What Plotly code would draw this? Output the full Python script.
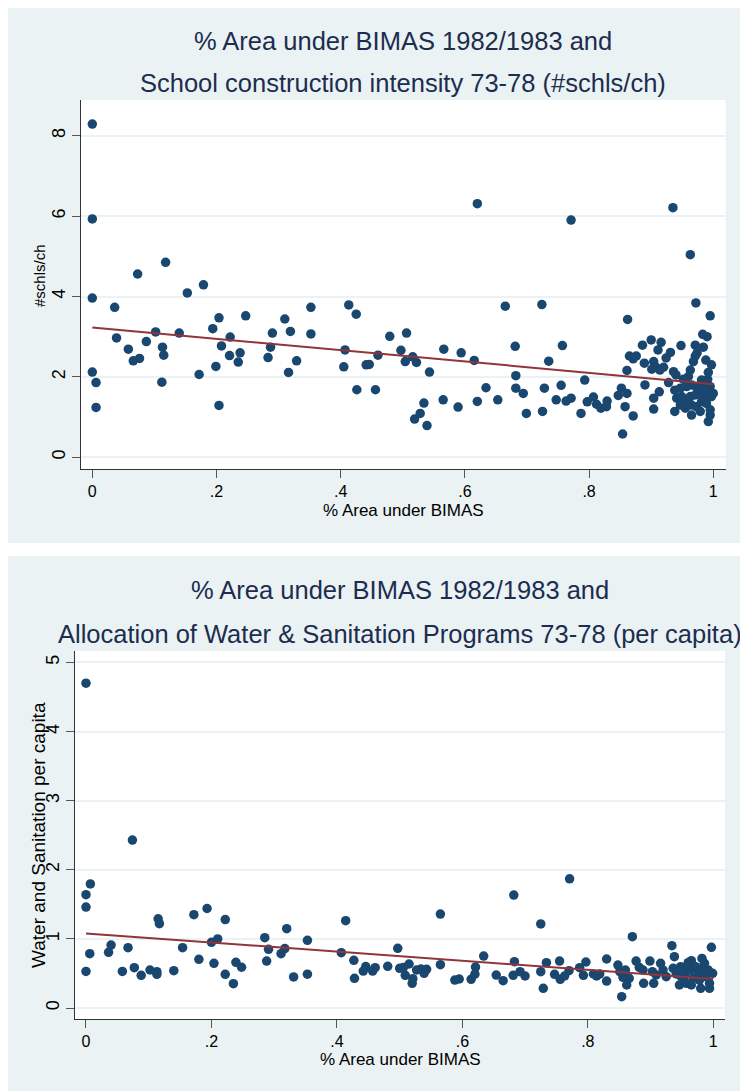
import plotly.graph_objects as go

# the page body keeps its default 8px margin, so the figure is drawn 8px in
# from the top-left corner; pixel positions below are for the whole window
PAGE_W, PAGE_H, BODY = 748, 1091, 8
FW, FH = PAGE_W - BODY, PAGE_H - BODY
PANEL_BG = "#EAF2F3"
NAVY = "#1A476F"
MAROON = "#90353B"
TITLE_COLOR = "#1C2D4F"
FONT = "Liberation Sans, Arial, sans-serif"

# --- top panel: % area under BIMAS vs school construction intensity ---
TOP_X = [
    0.000, 0.000, 0.000, 0.000, 0.006, 0.006, 0.036, 0.039, 0.058, 0.066,
    0.076, 0.073, 0.087, 0.102, 0.113, 0.115, 0.112, 0.118, 0.140, 0.153,
    0.172, 0.179, 0.194, 0.204, 0.199, 0.204, 0.208, 0.222, 0.221, 0.235,
    0.238, 0.247, 0.283, 0.287, 0.290, 0.310, 0.316, 0.319, 0.329, 0.352,
    0.352, 0.405, 0.407, 0.413, 0.425, 0.426, 0.441, 0.446, 0.456, 0.460,
    0.479, 0.497, 0.504, 0.506,
    0.516, 0.522, 0.519, 0.528, 0.534, 0.539, 0.543, 0.566, 0.565, 0.589,
    0.594, 0.615, 0.620, 0.620, 0.634, 0.653, 0.665, 0.681, 0.682, 0.682,
    0.694, 0.699, 0.724, 0.725, 0.728, 0.735, 0.747, 0.757, 0.755, 0.763,
    0.771, 0.771, 0.787, 0.793, 0.797, 0.807, 0.812, 0.819, 0.829, 0.828,
    0.847,
    0.862, 0.935, 0.963, 0.972, 0.995,
    0.983, 0.990, 0.886, 0.900, 0.916, 0.911, 0.948, 0.865, 0.876, 0.871,
    0.931, 0.924, 0.971, 0.984, 0.974, 0.971, 0.889, 0.904, 0.908, 0.901,
    0.920, 0.914, 0.968, 0.988, 0.997, 0.861, 0.936, 0.940, 0.963, 0.960,
    0.952, 0.992, 0.991, 0.981, 0.928, 0.890, 0.913, 0.904, 0.904, 0.852,
    0.861, 0.858, 0.871, 0.854,
    0.938, 0.947, 0.957, 0.965, 0.973, 0.984, 0.995, 1.000, 0.941, 0.949,
    0.955, 0.963, 0.971, 0.979, 0.989, 0.997, 0.938, 0.947, 0.955, 0.965,
    0.973, 0.981, 0.989, 0.995, 0.965, 0.979, 0.992, 0.995, 0.984,
]
TOP_Y = [
    8.29, 5.93, 3.96, 2.12, 1.86, 1.24, 3.73, 2.97, 2.69, 2.40,
    2.46, 4.56, 2.88, 3.12, 2.74, 2.54, 1.87, 4.85, 3.09, 4.09,
    2.06, 4.29, 3.20, 3.47, 2.26, 1.29, 2.77, 2.99, 2.53, 2.37,
    2.60, 3.52, 2.48, 2.74, 3.09, 3.44, 2.11, 3.13, 2.40, 3.73,
    3.07, 2.25, 2.67, 3.79, 3.56, 1.68, 2.30, 2.31, 1.68, 2.54,
    3.01, 2.66, 2.38, 3.09,
    2.50, 2.36, 0.95, 1.09, 1.35, 0.79, 2.12, 2.69, 1.43, 1.25,
    2.60, 2.41, 6.31, 1.39, 1.73, 1.43, 3.76, 2.76, 2.03, 1.72,
    1.59, 1.09, 3.80, 1.14, 1.72, 2.39, 1.43, 2.78, 1.79, 1.40,
    5.90, 1.47, 1.09, 1.92, 1.38, 1.50, 1.32, 1.22, 1.40, 1.26,
    1.54,
    3.43, 6.21, 5.04, 3.84, 3.52,
    3.06, 3.00, 2.79, 2.92, 2.86, 2.67, 2.78, 2.52, 2.52, 2.45,
    2.61, 2.47, 2.79, 2.74, 2.60, 2.52, 2.34, 2.38, 2.24, 2.19,
    2.24, 2.17, 2.38, 2.42, 2.30, 2.16, 2.13, 2.05, 2.17, 2.01,
    1.94, 2.11, 1.94, 1.92, 1.86, 1.80, 1.63, 1.47, 1.20, 1.72,
    1.59, 1.26, 1.03, 0.58,
    1.67, 1.72, 1.76, 1.80, 1.74, 1.80, 1.76, 1.59, 1.47, 1.51,
    1.38, 1.51, 1.55, 1.59, 1.63, 1.51, 1.14, 1.30, 1.22, 1.30,
    1.26, 1.38, 1.34, 1.18, 1.05, 1.14, 0.89, 1.05, 1.43,
]
TOP_FIT_X = [0.0, 1.0]
TOP_FIT_Y = [3.23, 1.82]

# --- bottom panel: % area under BIMAS vs water & sanitation per capita ---
BOT_X = [
    0.000, 0.074, 0.007, 0.000, 0.000, 0.006, 0.000, 0.036, 0.040, 0.067,
    0.058, 0.077, 0.088, 0.102, 0.113, 0.113, 0.115, 0.117, 0.140, 0.154,
    0.172, 0.180, 0.193, 0.200, 0.210, 0.204, 0.222, 0.222, 0.239, 0.248,
    0.235, 0.285, 0.291, 0.288, 0.320, 0.317, 0.311, 0.331, 0.353, 0.353,
    0.414, 0.407, 0.427, 0.428, 0.442, 0.446, 0.457, 0.461, 0.481, 0.497,
    0.500,
    0.506, 0.509, 0.515, 0.521, 0.520, 0.527, 0.534, 0.539, 0.543, 0.565,
    0.565, 0.588, 0.595, 0.614, 0.620, 0.621, 0.634, 0.654, 0.665, 0.682,
    0.683, 0.681, 0.692, 0.700, 0.725, 0.725, 0.729, 0.734, 0.747, 0.755,
    0.756, 0.763, 0.771, 0.770, 0.787, 0.793, 0.797, 0.809, 0.814, 0.819,
    0.830, 0.830, 0.848, 0.851, 0.854, 0.856, 0.860, 0.862, 0.866, 0.871,
    0.877, 0.882, 0.888, 0.889, 0.899, 0.903, 0.905, 0.909, 0.916, 0.920,
    0.925, 0.934, 0.938, 0.936, 0.941, 0.946, 0.948, 0.955, 0.960, 0.963,
    0.965, 0.968, 0.972, 0.976, 0.980, 0.982, 0.984, 0.988, 0.992, 0.994,
    0.997, 0.999, 0.994, 0.957, 0.949, 0.965, 0.978, 0.986, 0.952,
]
BOT_Y = [
    4.70, 2.43, 1.795, 1.64, 1.46, 0.786, 0.53, 0.806, 0.91, 0.873,
    0.53, 0.584, 0.473, 0.55, 0.526, 0.487, 1.29, 1.22, 0.54, 0.873,
    1.35, 0.704, 1.44, 0.95, 1.00, 0.646, 1.28, 0.487, 0.661, 0.59,
    0.352, 1.018, 0.849, 0.68, 1.148, 0.86, 0.786, 0.449, 0.979, 0.49,
    1.264, 0.80, 0.69, 0.43, 0.535, 0.60, 0.535, 0.584, 0.603, 0.864,
    0.574,
    0.588, 0.473, 0.637, 0.424, 0.357, 0.55, 0.564, 0.502, 0.56, 1.36,
    0.627, 0.405, 0.42, 0.415, 0.49, 0.593, 0.752, 0.477, 0.395, 1.635,
    0.67, 0.473, 0.526, 0.463, 1.216, 0.526, 0.285, 0.656, 0.487, 0.68,
    0.415, 0.463, 1.87, 0.54, 0.584, 0.473, 0.666, 0.492, 0.463, 0.492,
    0.709, 0.39, 0.622, 0.526, 0.164, 0.444, 0.55, 0.333, 0.43, 1.032,
    0.68, 0.588, 0.55, 0.357, 0.68, 0.526, 0.357, 0.478, 0.646, 0.55,
    0.453, 0.902, 0.743, 0.574, 0.492, 0.333, 0.598, 0.478, 0.656, 0.55,
    0.685, 0.43, 0.598, 0.502, 0.285, 0.718, 0.574, 0.453, 0.55, 0.285,
    0.878, 0.502, 0.357, 0.357, 0.453, 0.333, 0.405, 0.646, 0.55,
]
BOT_FIT_X = [0.0, 1.0]
BOT_FIT_Y = [1.08, 0.42]

X_TICKS = [0, 0.2, 0.4, 0.6, 0.8, 1]
X_TICK_TEXT = ["0", ".2", ".4", ".6", ".8", "1"]
TOP_Y_TICKS = [0, 2, 4, 6, 8]
BOT_Y_TICKS = [0, 1, 2, 3, 4, 5]


def px_x(p):
    return (p - BODY) / FW


def px_y(p):
    return 1 - (p - BODY) / FH


fig = go.Figure()
fig.add_trace(go.Scatter(x=TOP_X, y=TOP_Y, mode="markers", xaxis="x", yaxis="y",
                         marker=dict(color=NAVY, size=9.5)))
fig.add_trace(go.Scatter(x=TOP_FIT_X, y=TOP_FIT_Y, mode="lines", xaxis="x", yaxis="y",
                         line=dict(color=MAROON, width=2)))
fig.add_trace(go.Scatter(x=BOT_X, y=BOT_Y, mode="markers", xaxis="x2", yaxis="y2",
                         marker=dict(color=NAVY, size=9.5)))
fig.add_trace(go.Scatter(x=BOT_FIT_X, y=BOT_FIT_Y, mode="lines", xaxis="x2", yaxis="y2",
                         line=dict(color=MAROON, width=2)))

xaxis_style = dict(
    tickvals=X_TICKS, ticktext=X_TICK_TEXT, ticks="outside", ticklen=8, tickwidth=1,
    tickcolor="#555", showline=True, linecolor="#333", linewidth=1, showgrid=False,
    zeroline=False, tickfont=dict(family=FONT, size=16, color="black"),
)
yaxis_style = dict(
    ticks="outside", ticklen=8, tickwidth=1, tickcolor="#555", tickangle=-90,
    showline=True, linecolor="#333", linewidth=1, showgrid=True, gridcolor=PANEL_BG,
    gridwidth=1.5, zeroline=False, tickfont=dict(family=FONT, size=18, color="black"),
)

# plot regions in window pixels: top (80.7..725.7, 100..469), bottom (74.7..725, 651..1019)
fig.update_layout(
    width=FW, height=FH, margin=dict(l=0, r=0, t=0, b=0),
    paper_bgcolor="white", plot_bgcolor="white", showlegend=False,
    xaxis=dict(domain=[px_x(80.7), px_x(725.7)], anchor="y", range=[-0.0187, 1.020], **xaxis_style),
    yaxis=dict(domain=[px_y(469), px_y(100)], anchor="x", range=[-0.291, 8.888],
               tickvals=TOP_Y_TICKS, ticktext=[str(v) for v in TOP_Y_TICKS], **yaxis_style),
    xaxis2=dict(domain=[px_x(74.7), px_x(725)], anchor="y2", range=[-0.018, 1.0187], **xaxis_style),
    yaxis2=dict(domain=[px_y(1019), px_y(651)], anchor="x2", range=[-0.159, 5.166],
                tickvals=BOT_Y_TICKS, ticktext=[str(v) for v in BOT_Y_TICKS], **yaxis_style),
)

# panel backgrounds, then white plot regions on top of them
shapes = []
for x0, y0, x1, y1 in [(8, 8, 744, 543), (8, 556, 744, 1091)]:
    shapes.append(dict(type="rect", xref="paper", yref="paper", layer="below",
                       x0=px_x(x0), x1=px_x(x1), y0=px_y(y1), y1=px_y(y0),
                       fillcolor=PANEL_BG, line=dict(width=0)))
for x0, y0, x1, y1 in [(80.7, 100, 725.7, 469), (74.7, 651, 725, 1019)]:
    shapes.append(dict(type="rect", xref="paper", yref="paper", layer="below",
                       x0=px_x(x0), x1=px_x(x1), y0=px_y(y1), y1=px_y(y0),
                       fillcolor="white", line=dict(width=0)))
fig.update_layout(shapes=shapes)

annotations = [
    # titles
    dict(text="% Area under BIMAS 1982/1983 and", x=px_x(403), y=px_y(40.5), size=25.5, color=TITLE_COLOR, angle=0),
    dict(text="School construction intensity 73-78 (#schls/ch)", x=px_x(403), y=px_y(83), size=25.5, color=TITLE_COLOR, angle=0),
    dict(text="% Area under BIMAS 1982/1983 and", x=px_x(400), y=px_y(590), size=25.5, color=TITLE_COLOR, angle=0),
    dict(text="Allocation of Water & Sanitation Programs 73-78 (per capita)", x=px_x(400), y=px_y(634), size=25.5, color=TITLE_COLOR, angle=0),
    # axis titles
    dict(text="% Area under BIMAS", x=px_x(403), y=px_y(510), size=17, color="black", angle=0),
    dict(text="% Area under BIMAS", x=px_x(400), y=px_y(1059), size=17, color="black", angle=0),
    dict(text="#schls/ch", x=px_x(40), y=px_y(276), size=15, color="black", angle=-90),
    dict(text="Water and Sanitation per capita", x=px_x(38), y=px_y(835), size=19, color="black", angle=-90),
]
for a in annotations:
    fig.add_annotation(text=a["text"], x=a["x"], y=a["y"], xref="paper", yref="paper",
                       xanchor="center", yanchor="middle", showarrow=False, textangle=a["angle"],
                       font=dict(family=FONT, size=a["size"], color=a["color"]))

fig.write_html("out.html")
